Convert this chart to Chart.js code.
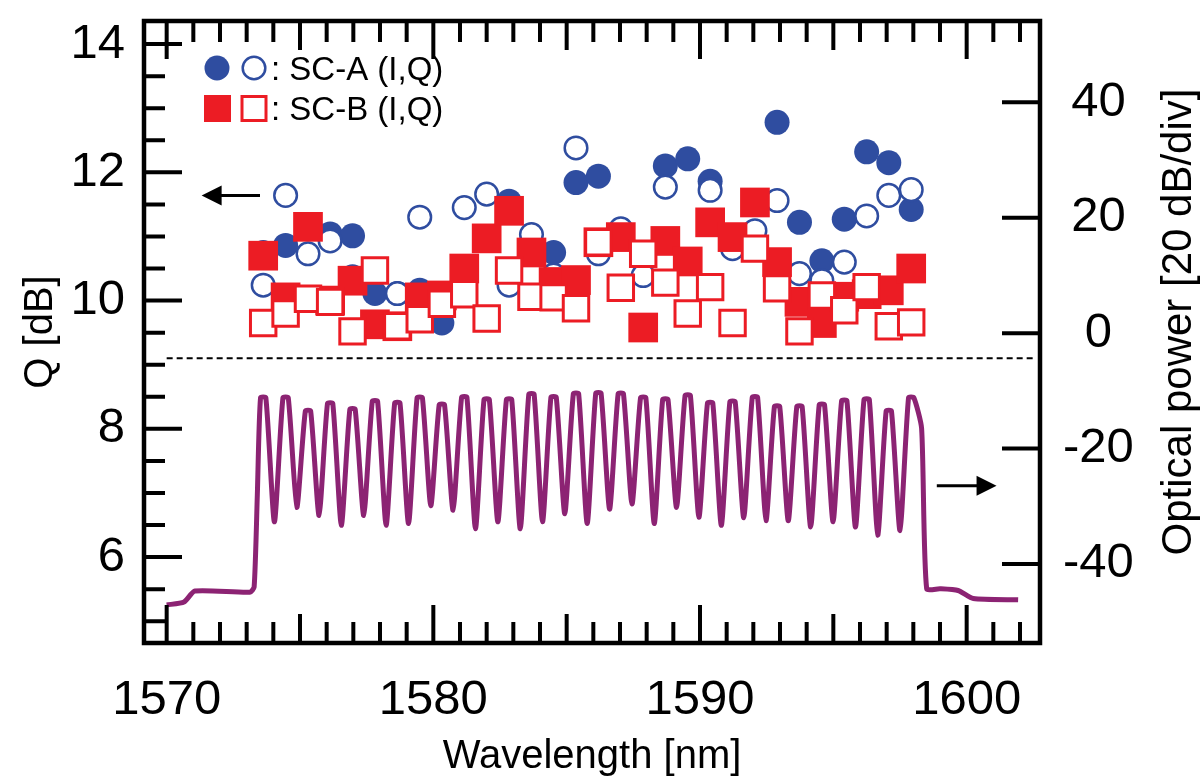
<!DOCTYPE html>
<html>
<head>
<meta charset="utf-8">
<title>Q factor per channel and optical spectrum</title>
<script src="https://cdn.jsdelivr.net/npm/chart.js@4.4.1/dist/chart.umd.min.js"></script>
<style>
  html, body { margin: 0; padding: 0; background: #fff; }
  #wrap { width: 1203px; height: 781px; }
</style>
</head>
<body>
<div id="wrap"><canvas id="qChart" width="1203" height="781"></canvas></div>
<script>
// channel wavelengths [nm]
const channelWl = [1573.62, 1574.46, 1575.30, 1576.13, 1576.97, 1577.81, 1578.65, 1579.49, 1580.32, 1581.16,
                   1582.00, 1582.84, 1583.68, 1584.51, 1585.35, 1586.19, 1587.03, 1587.87, 1588.70, 1589.54,
                   1590.38, 1591.22, 1592.06, 1592.89, 1593.73, 1594.57, 1595.41, 1596.25, 1597.08, 1597.92];

// Q [dB]
const scA_I = [10.75, 10.86, 11.12, 11.04, 11.01, 10.11, 10.11, 10.16, 9.65, 10.50,
               10.99, 11.55, 10.75, 10.75, 11.84, 11.94, 10.99, 10.73, 12.10, 12.21,
               11.86, 10.99, 11.53, 12.78, 11.22, 10.62, 11.27, 12.32, 12.15, 11.42];
const scA_Q = [10.24, 11.64, 10.73, 10.93, 10.37, 10.47, 10.11, 11.30, 9.93, 11.45,
               11.66, 10.24, 11.03, 10.40, 12.38, 10.73, 11.12, 10.39, 11.77, 10.60,
               11.72, 10.81, 11.09, 11.56, 10.42, 10.31, 10.60, 11.32, 11.64, 11.73];
const scB_I = [10.70, 10.05, 11.15, 10.00, 10.31, 9.63, 9.60, 10.05, 10.08, 10.50,
               10.97, 11.40, 10.75, 10.29, 10.32, 10.91, 10.99, 9.58, 10.93, 10.61,
               11.22, 10.99, 11.53, 10.60, 9.98, 9.65, 10.06, 10.10, 10.16, 10.50];
const scB_Q = [9.65, 9.80, 10.03, 9.98, 9.52, 10.47, 9.60, 9.71, 9.95, 10.10,
               9.72, 10.47, 10.06, 10.05, 9.88, 10.91, 10.20, 10.73, 10.28, 9.80,
               10.21, 9.65, 10.81, 10.19, 9.52, 10.08, 9.85, 10.21, 9.60, 9.66];
const fecLimit = 9.1;

// optical spectrum [dB], 20 dB/div
const peakPower = [-11.2, -11.2, -13.5, -12.2, -13.2, -11.8, -12.1, -11.2, -12.4, -11.1,
                   -11.5, -11.5, -10.6, -11.1, -10.5, -10.4, -10.5, -11.2, -11.5, -10.8,
                   -12.1, -11.9, -11.1, -12.7, -12.7, -12.4, -11.7, -11.5, -13.5, -11.2];
const dipPower = [-32.7, -30.2, -31.6, -33.3, -31.6, -33.3, -33.0, -29.9, -30.7, -33.9,
                  -32.7, -33.9, -32.7, -31.3, -33.0, -30.5, -29.6, -33.0, -30.2, -31.9,
                  -33.3, -32.0, -32.5, -32.5, -33.6, -32.7, -33.6, -35.0, -34.2];
const leftEdgeWl = [1570.00, 1570.65, 1571.06, 1573.12, 1573.28, 1573.40];
const leftEdgePow = [-47.1, -46.6, -44.7, -44.9, -44.0, -28.0];
const rightEdgeWl = [1598.31, 1598.50, 1599.00, 1599.68, 1600.25, 1601.93];
const rightEdgePow = [-16.5, -44.3, -44.3, -44.6, -46.0, -46.2];

const xTicks = [1570, 1580, 1590, 1600];
const qTicks = [6, 8, 10, 12, 14];
const powerTicks = [-40, -20, 0, 20, 40];

const BLUE = '#2f4da0';
const RED = '#ec1c24';
const PURPLE = '#8c2373';
const FONT = "'Liberation Sans', Arial, sans-serif";

const pts = (vals) => vals.map((v, i) => ({ x: channelWl[i], y: v }));

const spectrum = [];
leftEdgeWl.forEach((w, i) => spectrum.push({ x: w, y: leftEdgePow[i] }));
channelWl.forEach((w, i) => {
  spectrum.push({ x: w - 0.1, y: peakPower[i] });
  spectrum.push({ x: w + 0.1, y: peakPower[i] });
  if (i < dipPower.length) {
    spectrum.push({ x: (w + channelWl[i + 1]) / 2, y: dipPower[i] });
  }
});
rightEdgeWl.forEach((w, i) => spectrum.push({ x: w, y: rightEdgePow[i] }));

function fixTicks(values) {
  return (scale) => { scale.ticks = values.map(v => ({ value: v })); };
}

// frame, inward ticks, arrows, legend, right axis title
const decorPlugin = {
  id: 'decor',
  afterDraw(chart) {
    const { ctx, chartArea: a, scales } = chart;
    const x = scales.x, yq = scales.y, yp = scales.y2;
    ctx.save();
    ctx.strokeStyle = '#000';
    ctx.lineCap = 'butt';
    ctx.lineWidth = 4;
    ctx.beginPath();
    for (let w = 1570; w <= 1602; w++) {
      const px = x.getPixelForValue(w);
      const len = w % 10 === 0 ? 38 : (w % 5 === 0 ? 29 : 21);
      ctx.moveTo(px, a.bottom); ctx.lineTo(px, a.bottom - len);
      ctx.moveTo(px, a.top); ctx.lineTo(px, a.top + len);
    }
    for (let q = 5; q <= 14; q += 0.5) {
      const py = yq.getPixelForValue(q);
      const len = q % 2 === 0 ? 38 : 21;
      ctx.moveTo(a.left, py); ctx.lineTo(a.left + len, py);
    }
    powerTicks.forEach(p => {
      const py = yp.getPixelForValue(p);
      ctx.moveTo(a.right, py); ctx.lineTo(a.right - 38, py);
    });
    ctx.stroke();
    ctx.lineWidth = 4.5;
    ctx.strokeRect(a.left, a.top, a.right - a.left, a.bottom - a.top);

    // arrows pointing to the axes
    const arrow = (x0, x1, y) => {
      const dir = Math.sign(x1 - x0);
      ctx.lineWidth = 3;
      ctx.beginPath();
      ctx.moveTo(x0, y); ctx.lineTo(x1 - dir * 16, y);
      ctx.stroke();
      ctx.beginPath();
      ctx.moveTo(x1, y);
      ctx.lineTo(x1 - dir * 20, y - 10);
      ctx.lineTo(x1 - dir * 20, y + 10);
      ctx.closePath();
      ctx.fillStyle = '#000';
      ctx.fill();
    };
    arrow(x.getPixelForValue(1573.5), x.getPixelForValue(1571.31), yq.getPixelForValue(11.64));
    arrow(x.getPixelForValue(1598.88), x.getPixelForValue(1601.12), yp.getPixelForValue(-26.44));

    // legend
    ctx.fillStyle = BLUE;
    ctx.beginPath(); ctx.arc(217, 68, 12.5, 0, Math.PI * 2); ctx.fill();
    ctx.strokeStyle = BLUE; ctx.lineWidth = 2.5;
    ctx.beginPath(); ctx.arc(254, 68, 11.3, 0, Math.PI * 2); ctx.stroke();
    ctx.fillStyle = RED;
    ctx.fillRect(204, 95, 27, 27);
    ctx.strokeStyle = RED; ctx.lineWidth = 3;
    ctx.strokeRect(242, 96.5, 24, 24);
    ctx.fillStyle = '#000';
    ctx.font = '33px ' + FONT;
    ctx.textAlign = 'left';
    ctx.textBaseline = 'alphabetic';
    ctx.fillText(': SC-A (I,Q)', 271, 80);
    ctx.fillText(': SC-B (I,Q)', 271, 120);

    // right axis title, reads bottom to top
    ctx.translate(1191, 322);
    ctx.rotate(-Math.PI / 2);
    ctx.font = '42px ' + FONT;
    ctx.textAlign = 'center';
    ctx.fillText('Optical power [20 dB/div]', 0, 0);
    ctx.restore();
  }
};

new Chart(document.getElementById('qChart'), {
  type: 'scatter',
  data: {
    datasets: [
      {
        label: 'SC-B Q', data: pts(scB_Q), order: 0, yAxisID: 'y',
        pointStyle: 'rect', pointRadius: 18, pointBorderWidth: 3,
        pointBorderColor: RED, pointBackgroundColor: '#fff'
      },
      {
        label: 'SC-B I', data: pts(scB_I), order: 1, yAxisID: 'y',
        pointStyle: 'rect', pointRadius: 21, pointBorderWidth: 0,
        pointBackgroundColor: RED
      },
      {
        label: 'SC-A Q', data: pts(scA_Q), order: 2, yAxisID: 'y',
        pointStyle: 'circle', pointRadius: 11.3, pointBorderWidth: 2.5,
        pointBorderColor: BLUE, pointBackgroundColor: '#fff'
      },
      {
        label: 'SC-A I', data: pts(scA_I), order: 3, yAxisID: 'y',
        pointStyle: 'circle', pointRadius: 12.5, pointBorderWidth: 0,
        pointBackgroundColor: BLUE
      },
      {
        label: 'FEC limit', data: [{ x: 1570, y: fecLimit }, { x: 1602.5, y: fecLimit }],
        order: 4, yAxisID: 'y', showLine: true, pointRadius: 0,
        borderColor: '#000', borderWidth: 2, borderDash: [6, 4]
      },
      {
        label: 'Spectrum', data: spectrum, order: 5, yAxisID: 'y2',
        showLine: true, pointRadius: 0, tension: 0.2,
        borderColor: PURPLE, borderWidth: 5, borderJoinStyle: 'round'
      }
    ]
  },
  options: {
    responsive: false,
    animation: false,
    events: [],
    layout: { padding: { top: 15, left: 0, right: 0, bottom: 0 } },
    plugins: { legend: { display: false }, tooltip: { enabled: false } },
    scales: {
      x: {
        type: 'linear', position: 'bottom', min: 1569.15, max: 1602.75,
        afterBuildTicks: fixTicks(xTicks),
        grid: { display: false, drawTicks: false }, border: { display: false },
        ticks: { color: '#000', font: { family: FONT, size: 49 }, padding: 28,
                 maxRotation: 0, autoSkip: false, callback: v => String(v) },
        title: { display: true, text: 'Wavelength [nm]', color: '#000',
                 font: { family: FONT, size: 40 }, padding: { top: 0, bottom: 0 } },
        afterFit: s => { s.height = 138; s.paddingLeft = 0; s.paddingRight = 0; }
      },
      y: {
        type: 'linear', position: 'left', min: 4.66, max: 14.36,
        afterBuildTicks: fixTicks(qTicks),
        grid: { display: false, drawTicks: false }, border: { display: false },
        ticks: { color: '#000', font: { family: FONT, size: 49 }, padding: 19,
                 autoSkip: false, callback: v => String(v) },
        title: { display: true, text: 'Q [dB]', color: '#000',
                 font: { family: FONT, size: 40 }, padding: { top: 17, bottom: 0 } },
        afterFit: s => { s.width = 144; s.paddingTop = 0; s.paddingBottom = 0; }
      },
      y2: {
        type: 'linear', position: 'right', min: -53.7, max: 54.1,
        afterBuildTicks: fixTicks(powerTicks),
        grid: { display: false, drawTicks: false }, border: { display: false },
        ticks: { color: '#000', font: { family: FONT, size: 49 }, padding: 23,
                 crossAlign: 'center', autoSkip: false, callback: v => String(v) },
        title: { display: false },
        afterFit: s => { s.width = 163; s.paddingTop = 0; s.paddingBottom = 0; }
      }
    }
  },
  plugins: [decorPlugin]
});
</script>
</body>
</html>
